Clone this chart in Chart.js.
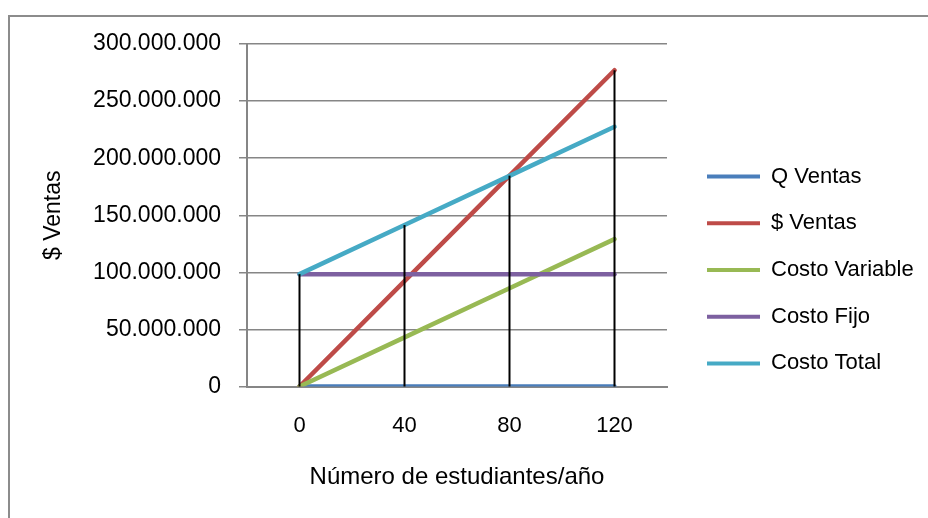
<!DOCTYPE html>
<html>
<head>
<meta charset="utf-8">
<script src="https://cdn.jsdelivr.net/npm/chart.js@4.4.1/dist/chart.umd.min.js"></script>
<style>
    html, body { margin: 0; padding: 0; background: #fff; overflow: hidden; }
    #frame { position: absolute; left: 8px; top: 15px; width: 1000px; height: 600px;
             border-left: 2px solid #8c8c8c; border-top: 2px solid #8c8c8c; }
    #wrap { position: absolute; left: 0; top: 0; width: 928px; height: 518px; }
</style>
</head>
<body>
<div id="frame"></div>
<div id="wrap"><canvas id="chart" width="928" height="518"></canvas></div>
<script>
// Données du graphique
const categories = ["0", "40", "80", "120"];
const qVentas = [0, 40, 80, 120];
const ventas = [0, 92300000, 184700000, 277000000];
const costoVariable = [0, 43000000, 86100000, 129100000];
const costoFijo = [98400000, 98400000, 98400000, 98400000];
const costoTotal = [98400000, 141400000, 184500000, 227500000];
const yMin = 0;
const yMax = 300000000;
const yStep = 50000000;

Chart.defaults.font.family = "'Liberation Sans', Arial, sans-serif";
Chart.defaults.color = "#000";

// Lignes verticales noires (max de chaque catégorie jusqu'à 0)
const dropLines = {
    id: "dropLines",
    afterDatasetsDraw(chart) {
        const { ctx, scales: { x, y } } = chart;
        ctx.save();
        ctx.strokeStyle = "#000";
        ctx.lineWidth = 2;
        categories.forEach((c, i) => {
            const top = Math.max(...chart.data.datasets.map(d => d.data[i]));
            const px = x.getPixelForValue(i);
            ctx.beginPath();
            ctx.moveTo(px, y.getPixelForValue(top));
            ctx.lineTo(px, y.getPixelForValue(0));
            ctx.stroke();
        });
        ctx.restore();
    }
};

// La légende est étroite pour la mise en page, on élargit juste sa zone de dessin
const legendeLarge = {
    id: "legendeLarge",
    beforeDraw(chart) {
        if (chart.legend) {
            chart.legend.right = chart.width;
            chart.legend.width = chart.width - chart.legend.left;
        }
    }
};

function serie(label, data, color, order) {
    return {
        label: label,
        data: data,
        borderColor: color,
        backgroundColor: color,
        borderWidth: 4.5,
        borderCapStyle: "round",
        borderJoinStyle: "round",
        pointRadius: 0,
        fill: false,
        tension: 0,
        order: order,
    };
}

const formatMiles = v => v.toString().replace(/\B(?=(\d{3})+(?!\d))/g, ".");

new Chart(document.getElementById("chart"), {
    type: "line",
    data: {
        labels: categories,
        datasets: [
            serie("Q Ventas", qVentas, "#4a7ebb", 5),
            serie("$ Ventas", ventas, "#be4b48", 4),
            serie("Costo Variable", costoVariable, "#98b954", 3),
            serie("Costo Fijo", costoFijo, "#7d60a0", 2),
            serie("Costo Total", costoTotal, "#46aac5", 1),
        ],
    },
    options: {
        responsive: false,
        animation: false,
        layout: { padding: { left: 30, top: 44, right: 145.7, bottom: 22 } },
        plugins: {
            tooltip: { enabled: false },
            legend: {
                position: "right",
                align: "center",
                maxWidth: 100,
                labels: {
                    boxWidth: 53,
                    boxHeight: 4,
                    padding: 24.7,
                    font: { size: 22 },
                    generateLabels(chart) {
                        return Chart.defaults.plugins.legend.labels.generateLabels(chart)
                            .map(l => ({ ...l, lineWidth: 0 }))
                            .sort((a, b) => a.datasetIndex - b.datasetIndex);
                    },
                },
            },
        },
        scales: {
            x: {
                type: "category",
                offset: true,
                grid: { display: false, drawTicks: false },
                border: { color: "#868686", width: 2 },
                ticks: { padding: 26.5, font: { size: 22 } },
                title: {
                    display: true,
                    text: "Número de estudiantes/año",
                    font: { size: 24 },
                    padding: { top: 0, bottom: 4.6 },
                },
                afterFit(s) { s.height = 109.5; },
            },
            y: {
                min: yMin,
                max: yMax,
                ticks: { stepSize: yStep, padding: 18, font: { size: 23 }, callback: formatMiles },
                grid: { color: "#868686", lineWidth: 1.5, tickLength: 8 },
                border: { color: "#868686", width: 2 },
                title: { display: true, text: "$ Ventas", font: { size: 23 }, padding: 10.2 },
                afterFit(s) { s.width = 217; },
            },
            yEspacio: {
                type: "linear",
                position: "right",
                grid: { display: false, drawTicks: false },
                ticks: { display: false },
                border: { display: false },
                afterFit(s) { s.width = 15.3; },
            },
        },
    },
    plugins: [dropLines, legendeLarge],
});
</script>
</body>
</html>
